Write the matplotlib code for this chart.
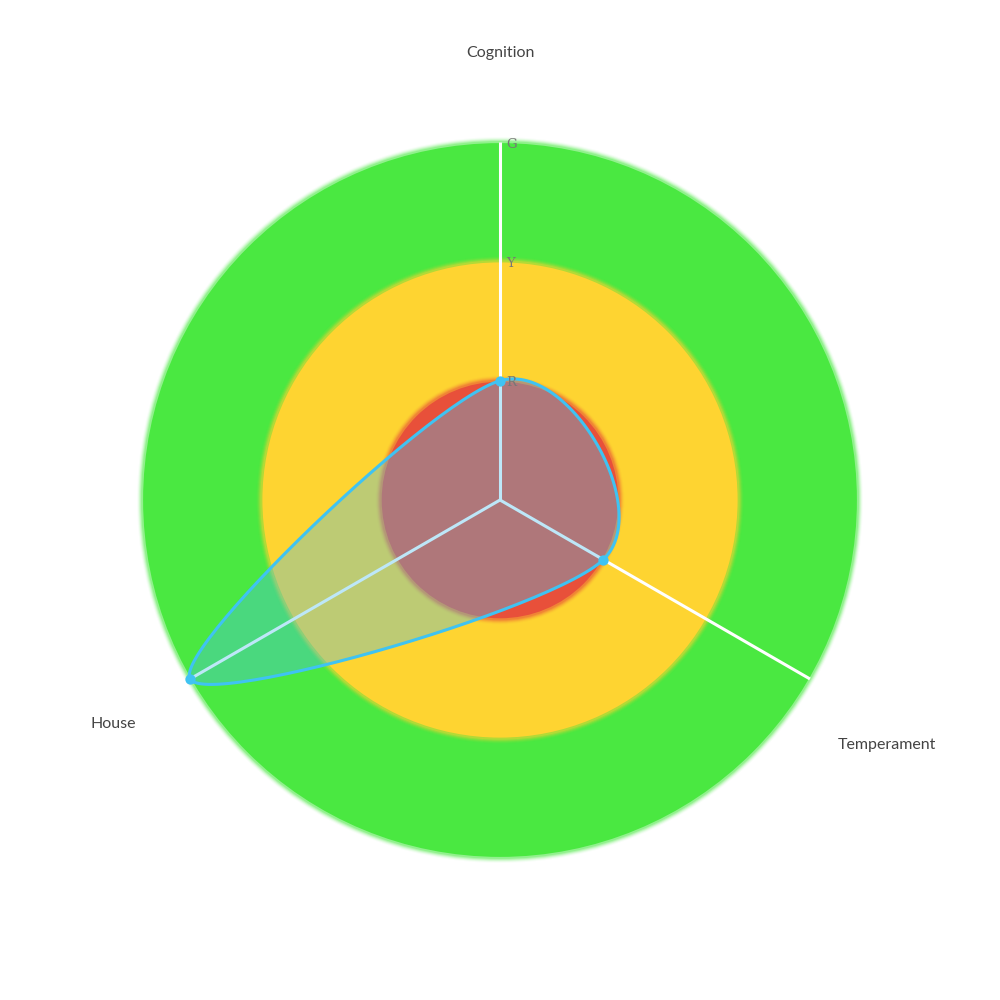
import numpy as np
import matplotlib
matplotlib.use("Agg")
import matplotlib.pyplot as plt
from matplotlib.patches import Circle, Polygon

# ---- data ----
axes_labels = ["Cognition", "Temperament", "House"]
values = [1, 1, 3]
levels = ["R", "Y", "G"]
level_values = [1, 2, 3]
level_colors = ["#e8503a", "#fed431", "#4ae841"]
max_value = 3

fill_color = "#4abdec"
line_color = "#3fc3f2"

plt.rcParams['font.family'] = ['Lato', 'DejaVu Sans']

fig = plt.figure(figsize=(10, 10), dpi=100)
ax = fig.add_axes([0, 0, 1, 1])
scale = 119.3  # px per unit
half = 500 / scale
ax.set_xlim(-half, half)
ax.set_ylim(-half, half)
ax.set_aspect('equal')
ax.axis('off')

px = 1 / scale

# concentric rings with soft glow edges, outer first
glow_alphas = [0.30, 0.22, 0.15, 0.09, 0.04]
for lv, col in sorted(zip(level_values, level_colors), key=lambda t: -t[0]):
    for k in range(len(glow_alphas), 0, -1):
        ax.add_patch(Circle((0, 0), lv + k * px, color=col, alpha=glow_alphas[k - 1],
                            lw=0, zorder=1))
    ax.add_patch(Circle((0, 0), lv - 1 * px, color=col, lw=0, zorder=1))

n = len(axes_labels)
angles = [np.pi / 2 - 2 * np.pi * i / n for i in range(n)]

# axis lines
for a in angles:
    ax.plot([0, max_value * np.cos(a)], [0, max_value * np.sin(a)],
            color="white", lw=2.2, zorder=2, solid_capstyle='butt')

# axis labels
label_r = 447 / scale
label_dy = [0, -22, 0]  # px shift
for a, lab, dy in zip(angles, axes_labels, label_dy):
    ax.text(label_r * np.cos(a), label_r * np.sin(a) + dy * px, lab, ha='center', va='center',
            fontsize=11.5, color="#444444", zorder=5)

# level tick labels along top axis
for lv, lab in zip(level_values, levels):
    ax.text(6 * px, lv - 2 * px, lab, ha='left', va='center', fontsize=9.5,
            family='DejaVu Serif', color="#777777", zorder=5)

# data points
pts = np.array([[v * np.cos(a), v * np.sin(a)] for v, a in zip(values, angles)])

# closed Catmull-Rom spline
def catmull_closed(P, steps=60):
    m = len(P)
    out = []
    for i in range(m):
        p0, p1, p2, p3 = P[(i - 1) % m], P[i], P[(i + 1) % m], P[(i + 2) % m]
        t = np.linspace(0, 1, steps, endpoint=False)[:, None]
        c = 0.5 * ((2 * p1) + (-p0 + p2) * t + (2 * p0 - 5 * p1 + 4 * p2 - p3) * t ** 2
                   + (-p0 + 3 * p1 - 3 * p2 + p3) * t ** 3)
        out.append(c)
    out = np.vstack(out)
    return np.vstack([out, out[:1]])

curve = catmull_closed(pts)
ax.add_patch(Polygon(curve, closed=True, facecolor=fill_color, alpha=0.36, lw=0, zorder=3))
ax.plot(curve[:, 0], curve[:, 1], color=line_color, lw=2.2, zorder=4)
ax.scatter(pts[:, 0], pts[:, 1], s=55, color=line_color, zorder=5, lw=0)

fig.savefig("out.png", dpi=100)
